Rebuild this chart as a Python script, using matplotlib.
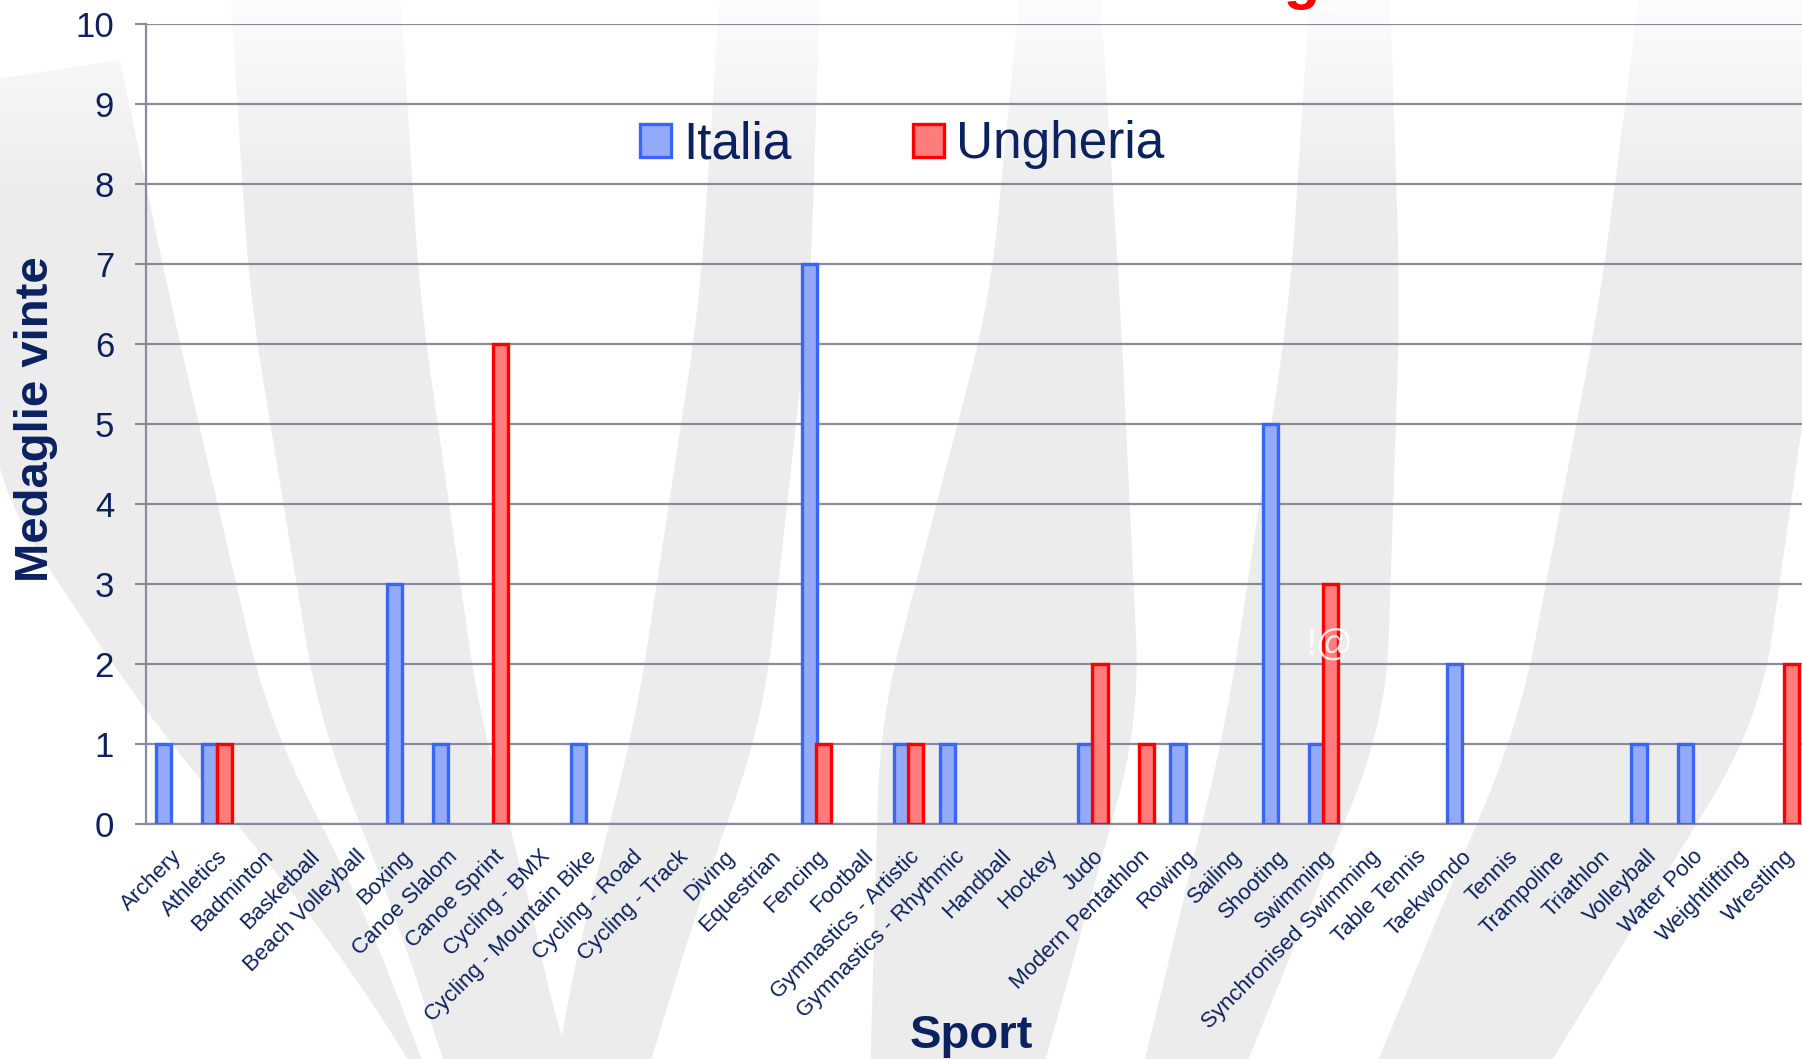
import numpy as np
import matplotlib
matplotlib.use("Agg")
import matplotlib.pyplot as plt
from matplotlib.patches import Polygon

# ---------------- data ----------------
sports = ["Archery", "Athletics", "Badminton", "Basketball", "Beach Volleyball",
          "Boxing", "Canoe Slalom", "Canoe Sprint", "Cycling - BMX",
          "Cycling - Mountain Bike", "Cycling - Road", "Cycling - Track", "Diving",
          "Equestrian", "Fencing", "Football", "Gymnastics - Artistic",
          "Gymnastics - Rhythmic", "Handball", "Hockey", "Judo", "Modern Pentathlon",
          "Rowing", "Sailing", "Shooting", "Swimming", "Synchronised Swimming",
          "Table Tennis", "Taekwondo", "Tennis", "Trampoline", "Triathlon",
          "Volleyball", "Water Polo", "Weightlifting", "Wrestling"]
italia = [1, 1, 0, 0, 0, 3, 1, 0, 0, 1, 0, 0, 0, 0, 7, 0, 1, 1, 0, 0, 1, 0,
          1, 0, 5, 1, 0, 0, 2, 0, 0, 0, 1, 1, 0, 0]
ungheria = [0, 1, 0, 0, 0, 0, 0, 6, 0, 0, 0, 0, 0, 0, 1, 0, 1, 0, 0, 0, 2, 1,
            0, 0, 0, 3, 0, 0, 0, 0, 0, 0, 0, 0, 0, 2]
series_names = ["Italia", "Ungheria"]
yticks = list(range(0, 11))

# ---------------- style ----------------
NAVY = "#0B2160"
GRID = "#8A8C9E"
BG_GREY = "#ECECEC"
plt.rcParams["font.family"] = ["Liberation Sans", "DejaVu Sans"]

W, H = 1802, 1059
fig = plt.figure(figsize=(W / 100, H / 100), dpi=100, facecolor="white")

# decorative background swooshes (figure pixel coords)
bg = fig.add_axes([0, 0, 1, 1], zorder=-5)
bg.set_xlim(0, W)
bg.set_ylim(H, 0)
bg.axis("off")


def edge(pts, win=81):
    pts = np.asarray(pts, dtype=float)
    ys = np.arange(pts[0, 1], pts[-1, 1] + 1, 4.0)
    xs = np.interp(ys, pts[:, 1], pts[:, 0])
    k = win // 4 * 2 + 1
    pad = np.pad(xs, k // 2, mode="reflect", reflect_type="odd")
    xs = np.convolve(pad, np.ones(k) / k, mode="valid")
    return np.column_stack([xs, ys])


def band(left, right):
    pts = np.vstack([edge(left), edge(right)[::-1]])
    bg.add_patch(Polygon(pts, closed=True, facecolor=BG_GREY, edgecolor="none"))


# left group
band([(-10, 80), (-10, 480), (150, 720), (243, 830), (360, 980), (420, 1080)],
     [(120, 60), (170, 300), (268, 720), (360, 900), (430, 1080)])
band([(230, -10), (250, 300), (319, 720), (390, 900), (450, 1080)],
     [(400, -10), (420, 300), (480, 720), (530, 900), (559, 1040), (575, 1080)])
band([(720, -10), (700, 300), (636, 720), (590, 900), (559, 1040), (555, 1080)],
     [(820, -10), (810, 300), (763, 720), (700, 900), (645, 1080)])
# centre
band([(1020, -10), (990, 300), (880, 720), (870, 1080)],
     [(1100, -10), (1120, 300), (1140, 720), (1040, 1080)])
# right group
band([(1310, -10), (1290, 300), (1227, 720), (1140, 1080)],
     [(1390, -10), (1400, 300), (1386, 720), (1240, 1080)])
band([(1640, -10), (1600, 300), (1520, 720), (1370, 1080)],
     [(1850, -10), (1820, 300), (1760, 720), (1540, 1080)])

# fade the swooshes towards the top edge
fade = np.ones((200, 2, 4))
fade[:, :, 3] = np.linspace(0.85, 0.0, 200)[:, None]
bg.imshow(fade, extent=(0, W, 200, 0), aspect="auto", zorder=5)
bg.set_xlim(0, W)
bg.set_ylim(H, 0)

# ---------------- main chart ----------------
ax = fig.add_axes([146 / W, 1 - 824 / H, 1 - 146 / W, 800 / H])
ax.patch.set_alpha(0)

x = np.arange(len(sports))
bw = 0.33
off = 0.155
ita = np.array(italia, dtype=float)
ung = np.array(ungheria, dtype=float)
mi = ita > 0
mu = ung > 0
ax.bar(x[mi] - off, ita[mi], width=bw, color="#93AAF8", edgecolor="#3A66F8",
       linewidth=2.4, zorder=3, label=series_names[0])
ax.bar(x[mu] + off, ung[mu], width=bw, color="#FF7C7C", edgecolor="#FF0000",
       linewidth=2.4, zorder=4, label=series_names[1])

ax.set_xlim(-0.54, 35.38)
ax.set_ylim(0, 10)
ax.set_yticks(yticks)
ax.set_yticklabels([str(v) for v in yticks], fontsize=25, color=NAVY)
ax.tick_params(axis="y", length=8, width=1.5, color=GRID, pad=15)
ax.set_xticks(x)
ax.set_xticklabels(sports, rotation=45, ha="right", va="top",
                   rotation_mode="anchor", fontsize=15.9, color=NAVY)
ax.tick_params(axis="x", length=0, pad=16)
ax.yaxis.grid(True, color=GRID, linewidth=1.6, zorder=1)
ax.set_axisbelow(True)
for s in ["top", "right"]:
    ax.spines[s].set_visible(False)
ax.spines["left"].set_color(GRID)
ax.spines["left"].set_linewidth(1.6)
ax.spines["bottom"].set_color(GRID)
ax.spines["bottom"].set_linewidth(1.6)

leg = ax.legend(loc="center left", bbox_to_anchor=(640 / W, 1 - 145 / H),
                bbox_transform=fig.transFigure, ncol=2, frameon=False,
                fontsize=37, handlelength=0.6, handleheight=0.6,
                handletextpad=0.25, columnspacing=2.35, borderpad=0,
                borderaxespad=0)
for t in leg.get_texts():
    t.set_color(NAVY)

fig.text(36 / W, 1 - 419 / H, "Medaglie vinte", rotation=90, ha="center",
         va="center", fontsize=34, fontweight="bold", color=NAVY)
fig.text(971 / W, 1 - 1048 / H, "Sport", ha="center", va="baseline",
         fontsize=34, fontweight="bold", color=NAVY)
# title (cut off at the top in the original; only a descender shows)
fig.text(1204 / W, 1 + 2.5 / H, "Ungheria", ha="left", va="baseline",
         fontsize=43, fontweight="bold", color="#FF0000")
# faint watermark
fig.text(1330 / W, 1 - 645 / H, "!@", ha="center", va="center",
         fontsize=26, color="white", alpha=0.85)

fig.savefig("out.png", dpi=100, facecolor="white")
